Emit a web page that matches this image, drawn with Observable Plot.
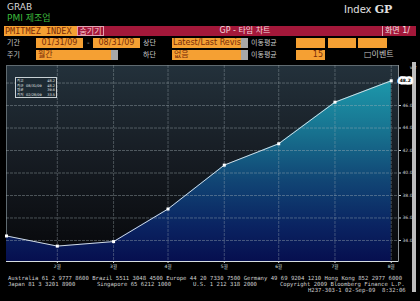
<!DOCTYPE html>
<html><head><meta charset="utf-8">
<script src="https://cdn.jsdelivr.net/npm/d3@7"></script>
<script src="https://cdn.jsdelivr.net/npm/@observablehq/plot@0.6"></script>
<style>
body{margin:0;background:#000;}
#page{position:relative;width:420px;height:301px;overflow:hidden;background:#000;font-family:"DejaVu Sans","Noto Sans CJK KR",sans-serif;}
.a{position:absolute;white-space:pre;line-height:1;}
.or{position:absolute;background:#f5a033;color:#7a2c08;font-size:8px;line-height:10px;height:10px;overflow:hidden;white-space:pre;}
.gr{position:absolute;background:#a8a8a8;height:10px;}
.lb{position:absolute;color:#c9c9c9;font-size:7px;line-height:10px;white-space:pre;}
.ft{position:absolute;color:#cfcfcf;font-family:"DejaVu Sans Mono",monospace;font-size:5.6px;line-height:1;white-space:pre;}
#chart{position:absolute;left:0;top:62px;}
</style></head>
<body><div id="page">
<div class="a" style="left:7px;top:3px;font-size:9px;color:#d6d6d6;">GRAB</div>
<div class="a" style="left:7px;top:14px;font-size:9px;color:#3cb93c;">PMI 제조업</div>
<div class="a" style="left:344px;top:4px;font-size:10px;color:#e0e0e0;">Index <b style="font-family:'DejaVu Serif';font-size:11px;">GP</b></div>

<div class="a" style="left:4px;top:26px;width:412px;height:10px;background:#a3183a;"></div>
<div class="or" style="left:4px;top:26px;width:72px;font-family:'DejaVu Sans Mono';font-size:8.5px;padding-left:1px;">PMITMEZ INDEX</div>
<div class="a" style="left:77px;top:26px;width:25px;height:8px;border:1px solid #e6a0b0;color:#f3c8d0;font-size:8px;line-height:9px;text-align:center;">숨기기</div>
<div class="a" style="left:190px;top:26px;width:110px;color:#f3d8de;font-size:8px;line-height:10px;text-align:center;">GP - 타임 차트</div>
<div class="a" style="left:382px;top:26px;width:1px;height:10px;background:#e0a0b0;"></div>
<div class="a" style="left:385px;top:26px;color:#f3e0e4;font-size:8px;line-height:10px;">화면 1/</div>

<div class="lb" style="left:7px;top:38px;">기간</div>
<div class="or" style="left:36px;top:38px;width:47px;text-align:center;">01/31/09</div>
<div class="lb" style="left:87px;top:38px;">-</div>
<div class="or" style="left:93px;top:38px;width:47px;text-align:center;">08/31/09</div>
<div class="lb" style="left:143px;top:38px;">상단</div>
<div class="or" style="left:172px;top:38px;width:68px;padding-left:1px;">Latest/Last Revis</div>
<div class="gr" style="left:241px;top:38px;width:7px;"></div>
<div class="lb" style="left:251px;top:38px;">이동평균</div>
<div class="or" style="left:296px;top:38px;width:29px;"></div>
<div class="or" style="left:328px;top:38px;width:28px;"></div>
<div class="or" style="left:358px;top:38px;width:29px;"></div>

<div class="lb" style="left:7px;top:50px;">주기</div>
<div class="or" style="left:36px;top:50px;width:74px;padding-left:2px;">월간</div>
<div class="gr" style="left:111px;top:50px;width:7px;"></div>
<div class="lb" style="left:143px;top:50px;">하단</div>
<div class="or" style="left:172px;top:50px;width:68px;padding-left:2px;">없음</div>
<div class="gr" style="left:241px;top:50px;width:7px;"></div>
<div class="lb" style="left:251px;top:50px;">이동평균</div>
<div class="or" style="left:296px;top:50px;width:27px;text-align:right;padding-right:2px;">15</div>
<div class="lb" style="left:364px;top:50px;font-size:8px;">□이벤트</div>

<div class="a" style="left:412px;top:62px;width:4px;height:230px;background:#bdbdbd;"></div>
<div id="chart"></div>
<div id="legend" class="a" style="left:15px;top:77px;width:40px;height:19px;border:1px solid #c8d0d4;background:#1d2a33;"></div>

<div class="ft" style="left:8px;top:276px;">Australia 61 2 9777 8600 Brazil 5511 3048 4500 Europe 44 20 7330 7500 Germany 49 69 9204 1210 Hong Kong 852 2977 6000</div>
<div class="ft" style="left:8px;top:281.5px;">Japan 81 3 3201 8900</div>
<div class="ft" style="left:97px;top:281.5px;">Singapore 65 6212 1000</div>
<div class="ft" style="left:193px;top:281.5px;">U.S. 1 212 318 2000</div>
<div class="ft" style="left:280px;top:281.5px;">Copyright 2009 Bloomberg Finance L.P.</div>
<div class="ft" style="left:308px;top:287.5px;">H237-303-1 02-Sep-09  8:32:06</div>
</div>
<script>
const months = ["2009-01-31","2009-02-28","2009-03-31","2009-04-30","2009-05-31","2009-06-30","2009-07-31","2009-08-31"];
const pmi = [34.4, 33.5, 33.9, 36.8, 40.7, 42.6, 46.3, 48.2];
const yTicks = [34, 36, 38, 40, 42, 44, 46];
const gridYValues = [34, 36, 38, 40, 42, 44, 46, 48];
const xTickLabels = ["2월","3월","4월","5월","6월","7월","8월"];
const legendLabels = ["최고", "최근", "평균", "최저"];
const legendDates = ["", "08/31/09", "", "02/28/09"];
const legendValues = ["48.2", "48.2", "39.6", "33.5"];

const data = months.map((m, i) => ({date: new Date(m), v: pmi[i]}));
const tickDates = data.slice(1).map(d => d.date);
const yMin = 32.13, yMax = 49.56;

const defsMark = () => {
  const defs = d3.create("svg:defs");
  const bg = defs.append("linearGradient").attr("id","bgGrad").attr("x1",0).attr("x2",0).attr("y1",0).attr("y2",1);
  [[0,"#23313b"],[0.45,"#171d24"],[0.85,"#0b0d11"],[1,"#060709"]].forEach(([o,c]) => bg.append("stop").attr("offset",o).attr("stop-color",c));
  const ar = defs.append("linearGradient").attr("id","areaGrad").attr("x1",0).attr("x2",0).attr("y1",0).attr("y2",1);
  [[0,"#1d98ab"],[0.3,"#17708e"],[0.55,"#114675"],[0.8,"#0a2462"],[1,"#060f4f"]].forEach(([o,c]) => ar.append("stop").attr("offset",o).attr("stop-color",c));
  return defs.node();
};

const chart = Plot.plot({
  width: 420, height: 212,
  marginLeft: 6, marginRight: 22, marginTop: 3, marginBottom: 13,
  style: {background: "transparent", fontFamily: "DejaVu Sans, Noto Sans CJK KR, sans-serif", overflow: "visible"},
  x: {type: "utc", domain: [new Date("2009-01-31"), new Date("2009-09-04")]},
  y: {domain: [yMin, yMax]},
  marks: [
    defsMark,
    Plot.frame({fill: "url(#bgGrad)", stroke: "#5f6a70"}),
    Plot.areaY(data, {x: "date", y1: yMin, y2: "v", fill: "url(#areaGrad)"}),
    Plot.gridY(gridYValues, {stroke: "#a8b4ba", strokeOpacity: 0.4, strokeDasharray: "3,1"}),
    Plot.gridX(tickDates, {stroke: "#a8b4ba", strokeOpacity: 0.35, strokeDasharray: "3,1"}),
    Plot.line(data, {x: "date", y: "v", stroke: "#d2dce2", strokeWidth: 1}),
    Plot.dot(data, {x: "date", y: "v", symbol: "square", r: 1.7, fill: "#ffffff", stroke: "none"}),
    Plot.axisY(yTicks, {anchor: "right", tickFormat: d => d.toFixed(1), fontSize: 4.5, tickSize: 2, tickPadding: 2, fill: "#cdd3d7", stroke: "#cdd3d7"}),
    Plot.axisX(tickDates, {tickFormat: d => xTickLabels[d.getUTCMonth() - 1], fontSize: 4.5, tickSize: 2, tickPadding: 1, fill: "#dde2e6", stroke: "#dde2e6"}),
    Plot.ruleY([yMin], {stroke: "#d6dcdf", strokeWidth: 1}),
    Plot.ruleX([new Date("2009-09-04")], {stroke: "#8c9296", y1: yMin, y2: yMax}),
    Plot.text([data[data.length - 1]], {x: "date", y: "v", text: d => d.v.toFixed(1), dx: 14, fontSize: 4.5, fontWeight: "bold", fill: "#000", stroke: "#ffffff", strokeWidth: 5})
  ]
});
document.getElementById("chart").appendChild(chart);

const lg = document.getElementById("legend");
legendLabels.forEach((l, i) => {
  const row = document.createElement("div");
  row.style.cssText = `position:absolute;left:1px;top:${1 + i * 4.5}px;width:38px;height:4.5px;font-size:3.5px;line-height:4.5px;color:#e6eaec;white-space:pre;`;
  row.innerHTML = `<span style="position:absolute;left:0">${l}</span><span style="position:absolute;left:9px">${legendDates[i]}</span><span style="position:absolute;right:0">${legendValues[i]}</span>`;
  lg.appendChild(row);
});
</script>
</body></html>
